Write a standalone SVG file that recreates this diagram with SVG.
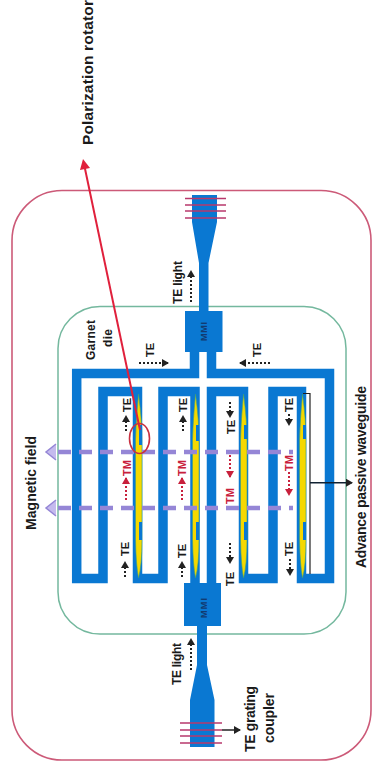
<svg xmlns="http://www.w3.org/2000/svg" width="372" height="770" viewBox="0 0 372 770">
<style>
text{font-family:"Liberation Sans",Arial,sans-serif;font-weight:bold;fill:#1a1a1a}
.wg{fill:none;stroke:#0a78d2;stroke-width:9.5;stroke-linejoin:miter}
.bl{fill:#0a78d2}
.y{fill:#f5d800;stroke:#3aa07a;stroke-width:.6}
.g{stroke:#b8386c;stroke-width:1.6}
.d{fill:none;stroke:#222;stroke-width:2;stroke-dasharray:2 2}
.dr{fill:none;stroke:#c8203c;stroke-width:2;stroke-dasharray:2 2}
.m{fill:none;stroke:#9586d6;stroke-width:4.500;stroke-dasharray:13 8}
.t{font-size:11px}
</style>
<defs>
<marker id="k" markerUnits="userSpaceOnUse" markerWidth="8" markerHeight="8" refX="6" refY="4" orient="auto"><path d="M0 0L7 4L0 8Z" fill="#222"/></marker>
<marker id="r" markerUnits="userSpaceOnUse" markerWidth="8" markerHeight="8" refX="6" refY="4" orient="auto"><path d="M0 0L7 4L0 8Z" fill="#c8203c"/></marker>
</defs>
<rect width="372" height="770" fill="#fff"/>
<g id="chip"><rect x="12" y="190.500" width="359" height="569.500" rx="50" fill="none" stroke="#cc5a78" stroke-width="1.600"/></g>
<g id="garnet-die"><rect x="58" y="306.500" width="288" height="327.500" rx="42" fill="none" stroke="#74b89e" stroke-width="1.500"/>
<text font-size="12" transform="translate(95,360) rotate(-90)" textLength="40">Garnet</text>
<text font-size="12" transform="translate(112,347) rotate(-90)" textLength="18">die</text></g>
<g id="waveguides">
<path class="wg" d="M194.500 350V373.500H76.700V578.500H103V391.500H137.500V578.500H163V391.500H195V585"/>
<path class="wg" d="M211.500 350V373.500H329.500V578.500H301.500V391.500H273V578.500H243.500V391.500H211.500V585"/>
</g>
<g id="mmi-top"><rect class="bl" x="185" y="311" width="37.500" height="41"/><text transform="translate(207,341) rotate(-90)" font-size="9" textLength="19" style="fill:#123a70">MMI</text></g>
<g id="mmi-bottom"><rect class="bl" x="184" y="583" width="37" height="43"/><text transform="translate(207,618) rotate(-90)" font-size="9" textLength="20" style="fill:#123a70">MMI</text></g>
<g id="grating-top"><path class="bl" d="M192 195H217V222L208.500 263V312H199V263L192 222Z"/>
<path class="g" d="M185 198.500H226M185 205H226M185 211H226M185 218H226"/></g>
<g id="grating-bottom"><path class="bl" d="M197 625H207V665L214.500 700V747H190V700L197 665Z"/>
<path class="g" d="M180 723H222M180 730H222M180 736H222M180 743H222"/></g>
<g id="rotators">
<path class="y" d="M138.500 394Q136 420 135.500 440V540Q136 565 138.500 578Q142 565 142 540V440Q142 420 138.500 394Z"/>
<path class="y" d="M195.500 394Q193 420 192.500 440V540Q193 565 195.500 578Q199 565 199 540V440Q199 420 195.500 394Z"/>
<path class="y" d="M243.500 394Q241 420 240.500 440V540Q241 565 243.500 578Q247 565 247 540V440Q247 420 243.500 394Z"/>
<path class="y" d="M302.500 394Q300 420 299.500 440V540Q300 565 302.500 578Q306 565 306 540V440Q306 420 302.500 394Z"/>
<path class="bl" d="M139 425h3v20h-3zM139 522h3v18h-3zM196 425h3v16h-3zM196 522h3v18h-3zM244 425h3v14h-3zM244 522h3v18h-3zM303 425h3v14h-3zM303 522h3v18h-3z"/>
</g>
<g id="magnetic-field">
<path class="m" d="M58 452H293M58 508H293"/>
<path d="M56 444L46 452L56 460M56 500L46 508L56 516" fill="#c4baee" stroke="#9586d6" stroke-width="1.500"/>
<text transform="translate(36,530) rotate(-90)" font-size="14" textLength="94">Magnetic field</text>
</g>
<g id="connectors">
<path d="M140 430L84 164" fill="none" stroke="#e0203c" stroke-width="2"/>
<path d="M83 159L80 170L90 168Z" fill="#e0203c"/>
<ellipse cx="139.500" cy="438.500" rx="10" ry="15" fill="none" stroke="#c83040" stroke-width="1.600"/>
<path d="M303 393.500H310V574" fill="none" stroke="#222" stroke-width="1.200"/>
<path d="M310 482.700H352" fill="none" stroke="#123" stroke-width="1.500" marker-end="url(#k)"/>
<path d="M222 730H240" fill="none" stroke="#222" stroke-width="1.500" marker-end="url(#k)"/>
<path class="d" d="M139 363H168" marker-end="url(#k)"/>
<path class="d" d="M270 363H240" marker-end="url(#k)"/>
<path class="d" d="M191 302V271" marker-end="url(#k)"/>
<path class="d" d="M191 670V639" marker-end="url(#k)"/>
<path class="d" d="M126 431V416" marker-end="url(#k)"/>
<path class="d" d="M183 431V416" marker-end="url(#k)"/>
<path class="d" d="M230 402V417" marker-end="url(#k)"/>
<path class="d" d="M289 414V425" marker-end="url(#k)"/>
<path class="dr" d="M126 500V478" marker-end="url(#r)"/>
<path class="dr" d="M182 500V478" marker-end="url(#r)"/>
<path class="dr" d="M230 455V477" marker-end="url(#r)"/>
<path class="dr" d="M289 472V495" marker-end="url(#r)"/>
<path class="d" d="M125 577V562" marker-end="url(#k)"/>
<path class="d" d="M182 577V562" marker-end="url(#k)"/>
<path class="d" d="M230 543V563" marker-end="url(#k)"/>
<path class="d" d="M290 559V575" marker-end="url(#k)"/>
</g>
<g id="labels">
<text transform="translate(93,145) rotate(-90)" font-size="15.500" textLength="145">Polarization rotator</text>
<text transform="translate(366,568) rotate(-90)" font-size="14" textLength="182">Advance passive waveguide</text>
<text transform="translate(255,752) rotate(-90)" font-size="14" textLength="66">TE grating</text>
<text transform="translate(274,743) rotate(-90)" font-size="14" textLength="50">coupler</text>
<text font-size="12" transform="translate(182,304) rotate(-90)" textLength="43">TE light</text>
<text font-size="12" transform="translate(181,685) rotate(-90)" textLength="42">TE light</text>
<text class="t" transform="translate(154,357) rotate(-90)">TE</text>
<text class="t" transform="translate(261,357) rotate(-90)">TE</text>
<text class="t" transform="translate(131,412) rotate(-90)">TE</text>
<text class="t" transform="translate(187,412) rotate(-90)">TE</text>
<text class="t" transform="translate(235,434) rotate(-90)">TE</text>
<text class="t" transform="translate(293,412) rotate(-90)">TE</text>
<text class="t" transform="translate(129,556) rotate(-90)">TE</text>
<text class="t" transform="translate(186,558) rotate(-90)">TE</text>
<text class="t" transform="translate(234,586) rotate(-90)">TE</text>
<text class="t" transform="translate(293,556) rotate(-90)">TE</text>
<text class="t" transform="translate(131,476) rotate(-90)" style="fill:#c8203c">TM</text>
<text class="t" transform="translate(186,476) rotate(-90)" style="fill:#c8203c">TM</text>
<text class="t" transform="translate(234,504) rotate(-90)" style="fill:#c8203c">TM</text>
<text class="t" transform="translate(293,471) rotate(-90)" style="fill:#c8203c">TM</text>
</g>
</svg>
